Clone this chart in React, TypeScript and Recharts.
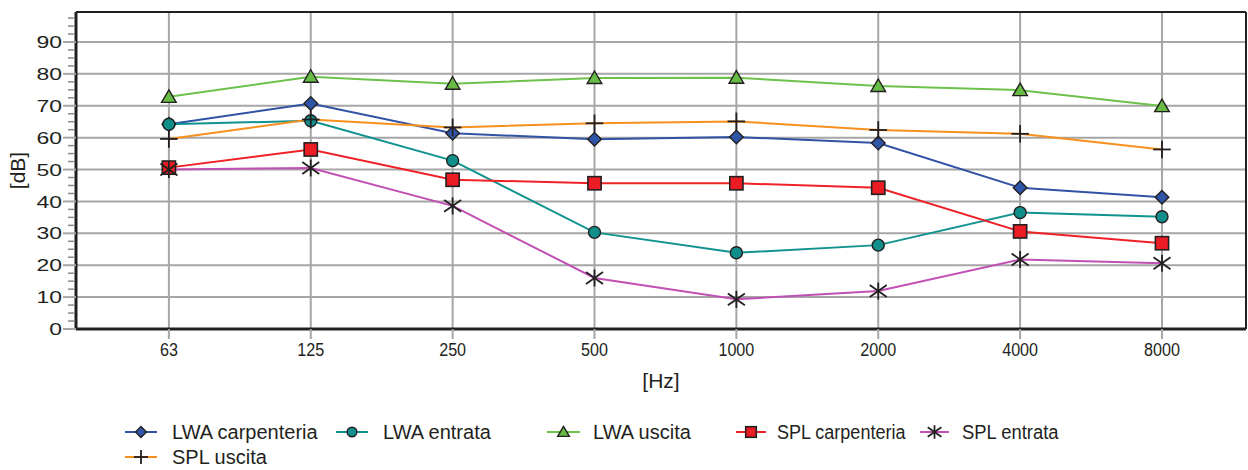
import React from 'react';
import { LineChart, Line, XAxis, YAxis, CartesianGrid, ReferenceLine } from 'recharts';

// octave band centres (62.5 is labelled 63)
const freqs = [62.5, 125, 250, 500, 1000, 2000, 4000, 8000];
const freqLabels = ['63', '125', '250', '500', '1000', '2000', '4000', '8000'];

const lwaCarpenteria = [64.2, 70.7, 61.4, 59.5, 60.2, 58.3, 44.3, 41.3];
const lwaEntrata = [64.2, 65.3, 52.8, 30.3, 23.9, 26.3, 36.5, 35.2];
const lwaUscita = [72.8, 79.1, 76.9, 78.7, 78.8, 76.2, 74.9, 69.9];
const splCarpenteria = [50.6, 56.3, 46.8, 45.7, 45.7, 44.3, 30.6, 26.9];
const splEntrata = [50.0, 50.5, 38.6, 16.0, 9.3, 11.9, 21.8, 20.6];
const splUscita = [59.6, 65.7, 63.2, 64.5, 65.1, 62.4, 61.2, 56.3];

const yMajorTicks = [0, 10, 20, 30, 40, 50, 60, 70, 80, 90];
const Y_MINOR_STEP = 2.5;
const Y_MAX = 99.4;
const X_DOMAIN: [number, number] = [39.7, 12060];

const FONT = '"Liberation Sans", Arial, Helvetica, sans-serif';
const INK = '#231f20';
const GRID = '#a6a6a6';

type MarkerKind = 'diamond' | 'circle' | 'triangle' | 'square' | 'asterisk' | 'plus';

const series = [
  { key: 'lwaCarp', name: 'LWA carpenteria', values: lwaCarpenteria, stroke: '#3152a5', fill: '#2f55a8', marker: 'diamond' as MarkerKind },
  { key: 'lwaEntr', name: 'LWA entrata', values: lwaEntrata, stroke: '#10938f', fill: '#0f8e8a', marker: 'circle' as MarkerKind },
  { key: 'lwaUsc', name: 'LWA uscita', values: lwaUscita, stroke: '#6cc24a', fill: '#66bb44', marker: 'triangle' as MarkerKind },
  { key: 'splCarp', name: 'SPL carpenteria', values: splCarpenteria, stroke: '#ee2127', fill: '#ec1c24', marker: 'square' as MarkerKind },
  { key: 'splEntr', name: 'SPL entrata', values: splEntrata, stroke: '#c150b4', fill: INK, marker: 'asterisk' as MarkerKind },
  { key: 'splUsc', name: 'SPL uscita', values: splUscita, stroke: '#f7901e', fill: INK, marker: 'plus' as MarkerKind },
];

const data = freqs.map((f, i) => {
  const row: Record<string, number> = { f };
  series.forEach(s => { row[s.key] = s.values[i]; });
  return row;
});

const yTicks: number[] = [];
for (let v = 0; v < Y_MAX; v += Y_MINOR_STEP) yTicks.push(v);

function Marker({ kind, cx, cy, fill, s = 1 }: { kind: MarkerKind; cx: number; cy: number; fill: string; s?: number }) {
  switch (kind) {
    case 'diamond': {
      const r = 6.8 * s;
      return <polygon points={`${cx},${cy - r} ${cx + r},${cy} ${cx},${cy + r} ${cx - r},${cy}`} fill={fill} stroke={INK} strokeWidth={1.4} />;
    }
    case 'circle':
      return <circle cx={cx} cy={cy} r={6 * s} fill={fill} stroke={INK} strokeWidth={1.4} />;
    case 'triangle': {
      const w = 7.3 * s;
      return <polygon points={`${cx},${cy - 7 * s} ${cx + w},${cy + 5.5 * s} ${cx - w},${cy + 5.5 * s}`} fill={fill} stroke={INK} strokeWidth={1.4} />;
    }
    case 'square': {
      const a = 6.6 * s;
      return <rect x={cx - a} y={cy - a} width={2 * a} height={2 * a} fill={fill} stroke={INK} strokeWidth={1.6} />;
    }
    case 'asterisk': {
      const r = 8.5 * s;
      return (
        <g stroke={INK} strokeWidth={1.8}>
          <line x1={cx} y1={cy - r} x2={cx} y2={cy + r} />
          <line x1={cx - r} y1={cy - r * 0.7} x2={cx + r} y2={cy + r * 0.7} />
          <line x1={cx - r} y1={cy + r * 0.7} x2={cx + r} y2={cy - r * 0.7} />
        </g>
      );
    }
    case 'plus': {
      const r = 8.8 * s;
      return (
        <g stroke={INK} strokeWidth={1.8}>
          <line x1={cx - r} y1={cy} x2={cx + r} y2={cy} />
          <line x1={cx} y1={cy - r} x2={cx} y2={cy + r} />
        </g>
      );
    }
  }
  return null;
}

function YTick(props: any) {
  const { x, y, payload } = props;
  const v = payload.value as number;
  if (yMajorTicks.includes(v)) {
    return (
      <g>
        <line x1={x - 13} x2={x} y1={y} y2={y} stroke={GRID} strokeWidth={2} />
        <text transform={`translate(${x - 14},${y}) scale(1.35,1)`} textAnchor="end" dy="0.36em"
          fontSize={17} fontFamily={FONT} fill={INK}>{v}</text>
      </g>
    );
  }
  return <line x1={x - 8} x2={x - 2} y1={y} y2={y} stroke="#8a8a8a" strokeWidth={1.5} />;
}

function XTick(props: any) {
  const { x, y, payload } = props;
  const i = freqs.indexOf(payload.value);
  return (
    <text transform={`translate(${x},${y}) scale(0.85,1)`} textAnchor="middle" dy="0.71em"
      fontSize={19} fontFamily={FONT} fill={INK}>{freqLabels[i]}</text>
  );
}

// legend layout: item left, row centre, swatch length, text offset, text squeeze
const legendPos = [
  { left: 125, top: 432, len: 32, text: 47, sx: 1 },
  { left: 336, top: 432, len: 32, text: 47, sx: 1 },
  { left: 547, top: 432, len: 33, text: 46, sx: 1 },
  { left: 736, top: 432, len: 30, text: 41, sx: 0.9 },
  { left: 920, top: 432, len: 29, text: 42, sx: 0.92 },
  { left: 125, top: 457, len: 32, text: 47, sx: 1 },
];

export default function App() {
  return (
    <div style={{ position: 'absolute', left: 0, top: 0, width: 1248, height: 470, background: '#fff' }}>
      <LineChart width={1248} height={470} data={data} margin={{ top: 12, right: 2, left: 16, bottom: 81 }}>
        <CartesianGrid stroke={GRID} strokeWidth={2} horizontalValues={yMajorTicks.slice(1)} verticalValues={freqs} />
        <XAxis dataKey="f" type="number" scale="log" domain={X_DOMAIN} allowDataOverflow ticks={freqs} interval={0}
          height={60} tickSize={10} tickMargin={3} tickLine={{ stroke: GRID, strokeWidth: 2 }}
          axisLine={{ stroke: INK, strokeWidth: 3 }} tick={<XTick />}
          label={{ value: '[Hz]', position: 'insideBottom', offset: 1, fontSize: 21, fontFamily: FONT, fill: INK }} />
        <YAxis type="number" domain={[0, Y_MAX]} allowDataOverflow ticks={yTicks} interval={0} width={60}
          tickSize={0} tickMargin={0} tickLine={false} axisLine={{ stroke: INK, strokeWidth: 3 }} tick={<YTick />}
          label={{ value: '[dB]', angle: -90, position: 'insideLeft', offset: 2, fontSize: 21, fontFamily: FONT, fill: INK, style: { textAnchor: 'middle' } }} />
        <ReferenceLine y={Y_MAX} stroke={INK} strokeWidth={2} />
        <ReferenceLine x={X_DOMAIN[1]} stroke={INK} strokeWidth={2} />
        {series.map(s => (
          <Line key={s.key} dataKey={s.key} type="linear" stroke={s.stroke} strokeWidth={2}
            isAnimationActive={false} activeDot={false}
            dot={(p: any) => <Marker key={`${s.key}-${p.index}`} kind={s.marker} cx={p.cx} cy={p.cy} fill={s.fill} />} />
        ))}
      </LineChart>
      {series.map((s, i) => {
        const lp = legendPos[i];
        return (
          <div key={s.key} style={{ position: 'absolute', left: lp.left, top: lp.top - 11, height: 22,
            display: 'flex', alignItems: 'center', fontFamily: FONT, fontSize: 20, color: INK, whiteSpace: 'nowrap' }}>
            <svg width={lp.len} height={22}>
              <line x1={0} x2={lp.len} y1={11} y2={11} stroke={s.stroke} strokeWidth={2} />
              <Marker kind={s.marker} cx={lp.len / 2} cy={11} fill={s.fill} s={0.8} />
            </svg>
            <span style={{ marginLeft: lp.text - lp.len, display: 'inline-block', transform: `scaleX(${lp.sx})`, transformOrigin: 'left center' }}>{s.name}</span>
          </div>
        );
      })}
    </div>
  );
}
